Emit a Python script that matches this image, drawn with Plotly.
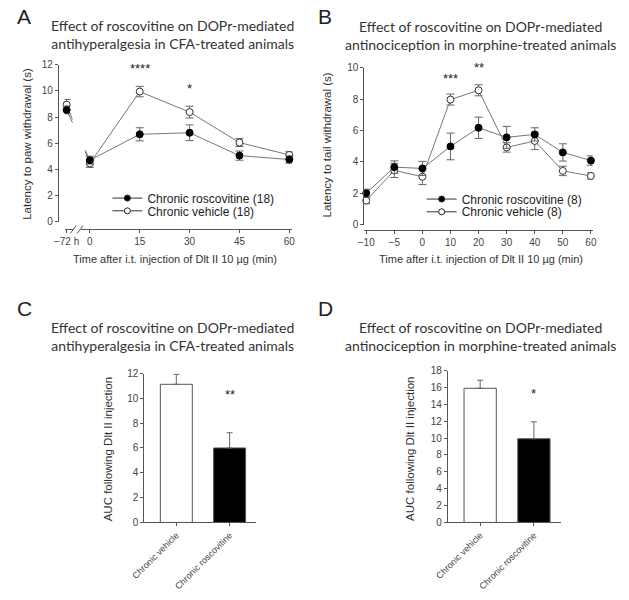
import plotly.graph_objects as go

W, H = 629, 600


def PX(x):
    return x / W


def PY(y):
    return 1 - y / H


# ---------------- Data ----------------
# Panel A (CFA, paw withdrawal)
A_times = [-72, 0, 15, 30, 45, 60]
A_time_labels = ["\u221272 h", "0", "15", "30", "45", "60"]
A_rosco = [8.55, 4.7, 6.68, 6.8, 5.05, 4.75]
A_rosco_err = [0.3, 0.3, 0.5, 0.6, 0.35, 0.28]
A_veh = [8.95, 4.45, 9.95, 8.38, 6.05, 5.1]
A_veh_err = [0.4, 0.3, 0.4, 0.45, 0.3, 0.25]
A_star_times = [15, 30]
A_star_text = ["****", "*"]
A_star_y = [11.7, 10.2]

# Panel B (morphine, tail withdrawal)
B_times = ["\u221210", "\u22125", "0", "10", "20", "30", "40", "50", "60"]
B_rosco = [2.0, 3.66, 3.58, 4.98, 6.17, 5.56, 5.75, 4.6, 4.08]
B_rosco_err = [0.25, 0.4, 0.45, 0.85, 0.68, 0.7, 0.42, 0.55, 0.3]
B_veh = [1.53, 3.45, 3.05, 7.97, 8.56, 4.92, 5.33, 3.42, 3.1]
B_veh_err = [0.2, 0.45, 0.5, 0.35, 0.35, 0.3, 0.55, 0.3, 0.2]
B_star_times = ["10", "20"]
B_star_text = ["***", "**"]
B_star_y = [9.3, 10.0]

# Panels C and D (AUC)
groups = ["Chronic vehicle", "Chronic roscovitine"]
C_auc = [11.13, 6.0]
C_err = [0.8, 1.23]
C_star_y = 10.3
C_star_text = "**"
D_auc = [15.9, 9.92]
D_err = [0.95, 2.0]
D_star_y = 15.3
D_star_text = "*"

# ---------------- Style ----------------
TXT = "#222222"
AX = "#555555"
LINE = "#777777"
ERR = "#666666"
ARIAL = "Liberation Sans, Arial, sans-serif"
TITLEF = "Lato, Open Sans, sans-serif"

BREAK_POS = -7.0  # display position of the pre-injection (-72 h) point


def a_pos(t):
    return t if t >= 0 else BREAK_POS


A_x = [a_pos(t) for t in A_times]

fig = go.Figure()


def err(arr):
    return dict(type="data", array=arr, color=ERR, thickness=1, width=4)


# broken-line stubs between -72 h and 0 (computed from data)
def stubs(y):
    x0, x1 = A_x[0], A_x[1]
    y0, y1 = y[0], y[1]
    f1, f2 = 0.25, 0.2
    return ([x0, x0 + f1 * (x1 - x0), None, x1 - f2 * (x1 - x0), x1],
            [y0, y0 + f1 * (y1 - y0), None, y1 - f2 * (y1 - y0), y1])


for yv in (A_rosco, A_veh):
    sx, sy = stubs(yv)
    fig.add_trace(go.Scatter(x=sx, y=sy, mode="lines", line=dict(color=LINE, width=1),
                             showlegend=False, hoverinfo="skip", xaxis="x", yaxis="y"))

# Panel A traces
fig.add_trace(go.Scatter(x=A_x[1:], y=A_rosco[1:], mode="lines", line=dict(color=LINE, width=1),
                         showlegend=False, xaxis="x", yaxis="y", cliponaxis=False))
fig.add_trace(go.Scatter(x=A_x[1:], y=A_veh[1:], mode="lines", line=dict(color=LINE, width=1),
                         showlegend=False, xaxis="x", yaxis="y", cliponaxis=False))
fig.add_trace(go.Scatter(x=A_x, y=A_veh, mode="markers", error_y=err(A_veh_err),
                         marker=dict(symbol="circle", size=7, color="white", line=dict(color="#333", width=1)),
                         showlegend=False, xaxis="x", yaxis="y", cliponaxis=False))
fig.add_trace(go.Scatter(x=A_x, y=A_rosco, mode="markers", error_y=err(A_rosco_err),
                         marker=dict(symbol="circle", size=7, color="black", line=dict(color="black", width=1)),
                         showlegend=False, xaxis="x", yaxis="y", cliponaxis=False))

# Panel B traces
fig.add_trace(go.Scatter(x=B_times, y=B_veh, mode="lines+markers", error_y=err(B_veh_err),
                         line=dict(color=LINE, width=1),
                         marker=dict(size=7, color="white", line=dict(color="#333", width=1)),
                         showlegend=False, xaxis="x2", yaxis="y2", cliponaxis=False))
fig.add_trace(go.Scatter(x=B_times, y=B_rosco, mode="lines+markers", error_y=err(B_rosco_err),
                         line=dict(color=LINE, width=1),
                         marker=dict(size=7, color="black", line=dict(color="black", width=1)),
                         showlegend=False, xaxis="x2", yaxis="y2", cliponaxis=False))

# legend entries (one legend per row so the rows can sit close together)
leg_items = [
    ("Chronic roscovitine (18)", "black", "legend", "x", "y"),
    ("Chronic vehicle (18)", "white", "legend2", "x", "y"),
    ("Chronic roscovitine (8)", "black", "legend3", "x2", "y2"),
    ("Chronic vehicle (8)", "white", "legend4", "x2", "y2"),
]
for name, fillc, lg, xa, ya in leg_items:
    fig.add_trace(go.Scatter(x=[None], y=[None], mode="lines+markers", name=name,
                             line=dict(color="#333", width=1),
                             marker=dict(size=6, color=fillc, line=dict(color="#222", width=1)),
                             legend=lg, xaxis=xa, yaxis=ya))

# Panels C and D bars
bar_colors = ["white", "black"]
for xa, ya, vals, errs in (("x3", "y3", C_auc, C_err), ("x4", "y4", D_auc, D_err)):
    fig.add_trace(go.Bar(x=groups, y=vals, width=0.6,
                         marker=dict(color=bar_colors, line=dict(color=AX, width=1)),
                         error_y=dict(type="data", symmetric=False, array=errs,
                                      arrayminus=[0] * len(errs), color=ERR, thickness=1, width=3),
                         showlegend=False, xaxis=xa, yaxis=ya))

# ---------------- Axes ----------------
tickfont = dict(family=ARIAL, size=10, color="#444")
common = dict(showline=True, linecolor=AX, linewidth=1, ticks="outside", ticklen=3,
              tickcolor=AX, showgrid=False, zeroline=False, tickfont=tickfont)
small = {**common, "tickfont": dict(family=ARIAL, size=9, color="#444")}

A_scale = 205 / 60.0
fig.update_layout(
    xaxis=dict(domain=[PX(53), PX(287)], range=[-(79 - 53) / A_scale, 60 + 3 / A_scale],
               anchor="free", position=PY(228), tickvals=A_x, ticktext=A_time_labels, **common),
    yaxis=dict(domain=[PY(220), PY(60)], range=[0, 12], dtick=2, anchor="free",
               position=PX(46), **common),
    xaxis2=dict(domain=[PX(361), PX(596)], type="category", range=[-0.07, 8.07],
                anchor="free", position=PY(229), **common),
    yaxis2=dict(domain=[PY(223), PY(63)], range=[0, 10], dtick=2, anchor="free",
                position=PX(360), **common),
    xaxis3=dict(domain=[PX(135), PX(250)], type="category", range=[-0.6, 1.5],
                anchor="y3", tickangle=-45, **small),
    yaxis3=dict(domain=[PY(527), PY(375)], range=[0, 12], dtick=2, anchor="x3", **common),
    xaxis4=dict(domain=[PX(447), PX(563)], type="category", range=[-0.6, 1.5],
                anchor="y4", tickangle=-45, **small),
    yaxis4=dict(domain=[PY(527), PY(372)], range=[0, 18], dtick=2, anchor="x4", **common),
)

# ---------------- Legends ----------------
legfont = dict(family=ARIAL, size=12, color=TXT)


def leg(xpx, ypx):
    return dict(x=PX(xpx), y=PY(ypx), xanchor="left", yanchor="middle",
                bgcolor="rgba(0,0,0,0)", font=legfont, borderwidth=0, itemwidth=30)


fig.update_layout(legend=leg(97, 196), legend2=leg(97, 209),
                  legend3=leg(420, 197), legend4=leg(420, 210))

# ---------------- Annotations ----------------
ann = []


def text(x, y, s, size, family=ARIAL, angle=0, xanchor="center", yanchor="middle", color=TXT):
    ann.append(dict(x=PX(x), y=PY(y), xref="paper", yref="paper", text=s, showarrow=False,
                    textangle=angle, xanchor=xanchor, yanchor=yanchor,
                    font=dict(family=family, size=size, color=color)))


# panel letters
text(2, 11, "A", 21, xanchor="left")
text(311, 11, "B", 21, xanchor="left")
text(2, 309, "C", 21, xanchor="left")
text(311, 309, "D", 21, xanchor="left")

# titles
t1 = "Effect of roscovitine on DOPr-mediated<br>antihyperalgesia in CFA-treated animals"
t2 = "Effect of roscovitine on DOPr-mediated<br>antinociception in morphine-treated animals"
text(164, 29, t1, 14, family=TITLEF, color="#333")
text(481, 30, t2, 14, family=TITLEF, color="#333")
text(164, 337, t1, 14, family=TITLEF, color="#333")
text(481, 337, t2, 14, family=TITLEF, color="#333")

# axis titles
xl = "Time after i.t. injection of Dlt II 10 \u00b5g (min)"
text(167, 258, xl, 11, color="#333")
text(481, 258, xl, 11, color="#333")
text(15, 141, "Latency to paw withdrawal (s)", 11.5, angle=-90, color="#333")
text(323, 142, "Latency to tail withdrawal (s)", 11.5, angle=-90, color="#333")
text(98, 452, "AUC following Dlt II injection", 11.5, angle=-90, color="#333")
text(408, 452, "AUC following Dlt II injection", 11.5, angle=-90, color="#333")

# significance stars
starfont = dict(family=ARIAL, size=13, color=TXT)
for t, s, yv in zip(A_star_times, A_star_text, A_star_y):
    ann.append(dict(x=a_pos(t), y=yv, xref="x", yref="y", text=s, showarrow=False, font=starfont))
for t, s, yv in zip(B_star_times, B_star_text, B_star_y):
    ann.append(dict(x=B_times.index(t), y=yv, xref="x2", yref="y2", text=s, showarrow=False,
                    font=starfont))
ann.append(dict(x=groups.index(groups[1]), y=C_star_y, xref="x3", yref="y3", text=C_star_text,
                showarrow=False, font=starfont))
ann.append(dict(x=groups.index(groups[1]), y=D_star_y, xref="x4", yref="y4", text=D_star_text,
                showarrow=False, font=starfont))

# axis break marks on panel A x-axis
shapes = [
    dict(type="rect", xref="paper", yref="paper", x0=PX(62), x1=PX(70), y0=PY(230), y1=PY(226),
         fillcolor="white", line=dict(width=0), layer="above"),
    dict(type="line", xref="paper", yref="paper", x0=PX(59), x1=PX(65), y0=PY(232), y1=PY(224),
         line=dict(color=AX, width=1)),
    dict(type="line", xref="paper", yref="paper", x0=PX(66), x1=PX(72), y0=PY(232), y1=PY(224),
         line=dict(color=AX, width=1)),
]

fig.update_layout(
    width=W, height=H, autosize=False,
    margin=dict(l=0, r=0, t=0, b=0),
    paper_bgcolor="white", plot_bgcolor="white",
    annotations=ann, shapes=shapes,
)

fig.write_html("out.html", config={"displayModeBar": False},
               post_script="document.body.style.margin='0';document.body.style.padding='0';")
